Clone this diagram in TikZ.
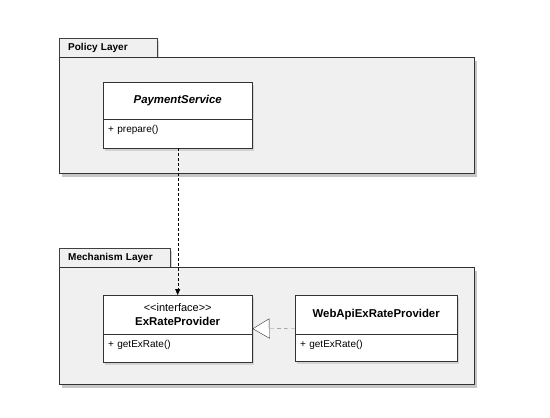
\documentclass[tikz,border=0pt]{standalone}
\usepackage{fontspec}
\newfontfamily\umlfont{Liberation Sans}
\usetikzlibrary{arrows.meta,shadows,calc,positioning}
\pgfdeclarelayer{edgelayer}
\pgfdeclarelayer{nodelayer}
\pgfsetlayers{nodelayer,main,edgelayer}

\begin{document}
\begin{tikzpicture}[x=1pt, y=-1pt,
	pkgtab/.style={draw=black!75, fill=black!6, anchor=north west, minimum height=19pt, inner xsep=9pt, inner ysep=0pt, align=left,
		font=\umlfont\bfseries\fontsize{10}{12}\selectfont, drop shadow={opacity=0.35, shadow xshift=2pt, shadow yshift=-3pt}},
	pkgbody/.style={draw=black!80, fill=black!6, anchor=north west, inner sep=0pt, drop shadow={opacity=0.45, shadow xshift=3pt, shadow yshift=-4pt}},
	cls/.style={draw=black!80, fill=white, anchor=north west, inner sep=0pt, align=center, drop shadow={opacity=0.25, shadow xshift=2pt, shadow yshift=-3pt}},
	clsops/.style={draw=black!80, fill=white, anchor=north west, inner xsep=5pt, inner ysep=3pt, align=left, text height=10pt,
		font=\umlfont\fontsize{10}{12}\selectfont, drop shadow={opacity=0.25, shadow xshift=2pt, shadow yshift=-3pt}},
	dep/.style={thin, dash pattern=on 3pt off 2pt, -{Triangle[length=6pt, width=5pt]}},
	realize/.style={black!50, dash pattern=on 4pt off 3pt, -{Triangle[length=17pt, width=20pt, fill=white, color=black!80]}}]
	\useasboundingbox (0, 0) rectangle (550, 418);
	\begin{pgfonlayer}{nodelayer}
		% policy layer
		\node [pkgtab, text width=80pt] (policytab) at (59, 38) {Policy Layer};
		\node [pkgbody, minimum width=415pt, minimum height=116pt] (policy) at (59, 57) {};
		\node [cls, minimum width=149pt, minimum height=37pt, font=\umlfont\bfseries\itshape\fontsize{11.4}{14}\selectfont] (ps) at (103, 82) {PaymentService};
		\node [clsops, text width=139pt, text depth=13pt] (psops) at (103, 119) {+ prepare()};
		% mechanism layer
		\node [pkgtab, text width=93pt] (mechtab) at (59, 248) {Mechanism Layer};
		\node [pkgbody, minimum width=415pt, minimum height=117pt] (mech) at (59, 267) {};
		\node [cls, minimum width=149pt, minimum height=39pt, font=\umlfont\fontsize{11}{14}\selectfont] (exr) at (103, 295) {<<interface>>\\[0pt]{\bfseries\fontsize{11.4}{14}\selectfont ExRateProvider}};
		\node [clsops, text width=139pt, text depth=12pt] (exrops) at (103, 334) {+ getExRate()};
		\node [cls, minimum width=162pt, minimum height=39pt, font=\umlfont\bfseries\fontsize{11.4}{14}\selectfont] (web) at (295, 295) {WebApiExRateProvider};
		\node [clsops, text width=152pt, text depth=11pt] (webops) at (295, 334) {+ getExRate()};
	\end{pgfonlayer}
	\begin{pgfonlayer}{edgelayer}
		\draw [dep] (psops.south) to (exr.north);
		\draw [realize] ($(web.north west)!0.5!(webops.south west)$) to ($(exr.north east)!0.5!(exrops.south east)$);
	\end{pgfonlayer}
\end{tikzpicture}
\end{document}
